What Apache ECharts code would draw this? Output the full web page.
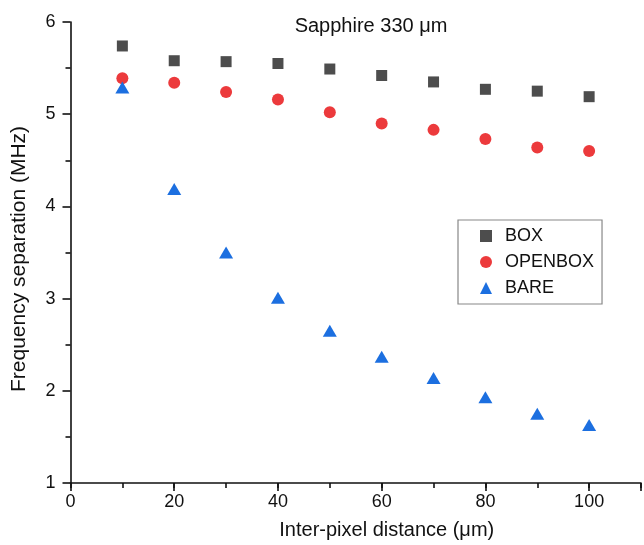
<!DOCTYPE html>
<html><head><meta charset="utf-8">
<script src="https://cdn.jsdelivr.net/npm/echarts@6/dist/echarts.min.js"></script>
<style>html,body{margin:0;padding:0;background:#fff}#c{width:644px;height:545px}</style>
</head><body><div id="c"></div>
<script>
const distances = [10, 20, 30, 40, 50, 60, 70, 80, 90, 100];
const boxValues = [5.74, 5.58, 5.57, 5.55, 5.49, 5.42, 5.35, 5.27, 5.25, 5.19];
const openboxValues = [5.39, 5.34, 5.24, 5.16, 5.02, 4.90, 4.83, 4.73, 4.64, 4.60];
const bareValues = [5.29, 4.19, 3.50, 3.01, 2.65, 2.37, 2.14, 1.93, 1.75, 1.63];
const seriesNames = ['BOX', 'OPENBOX', 'BARE'];

const font = 'Liberation Sans, Arial, sans-serif';
const pairs = v => distances.map((d, i) => [d, v[i]]);
const chart = echarts.init(document.getElementById('c'));
chart.setOption({
  animation: false,
  title: { text: 'Sapphire 330 μm', left: 366, top: 11, textAlign: 'center',
    textStyle: { fontFamily: font, fontSize: 20, fontWeight: 'normal', color: '#111' } },
  grid: { left: 70.5, right: -2, top: 22, bottom: 60 },
  legend: {
    orient: 'vertical', left: 458, top: 220,
    padding: [7, 8, 7, 22], itemGap: 8, itemWidth: 12, itemHeight: 12,
    borderColor: '#888', borderWidth: 1.2,
    textStyle: { fontFamily: font, fontSize: 18, color: '#111', padding: [0, 0, 0, 8] },
    data: seriesNames
  },
  xAxis: [{
    type: 'value', min: 0, max: 110, interval: 20,
    name: 'Inter-pixel distance (μm)', nameLocation: 'middle', nameGap: 37,
    nameTextStyle: { fontFamily: font, fontSize: 20, color: '#111', padding: [0, 0, 0, 62] },
    axisLine: { show: true, onZero: false, lineStyle: { color: '#111', width: 1.6 } },
    axisTick: { show: true, length: 8, lineStyle: { color: '#111', width: 1.6 } },
    axisLabel: { fontFamily: font, fontSize: 18, color: '#111', margin: 10,
      formatter: v => (v % 20 === 0 ? String(v) : '') },
    splitLine: { show: false }
  }, {
    type: 'value', min: 0, max: 110, interval: 10, position: 'bottom',
    axisLine: { show: false },
    axisTick: { show: true, length: 5, lineStyle: { color: '#111', width: 1.6 } },
    axisLabel: { show: false }, splitLine: { show: false }
  }],
  yAxis: {
    type: 'value', min: 1, max: 6, interval: 1,
    name: 'Frequency separation (MHz)', nameLocation: 'middle', nameGap: 41,
    nameTextStyle: { fontFamily: font, fontSize: 21, color: '#111', padding: [0, 13, 0, 0] },
    axisLine: { show: true, onZero: false, lineStyle: { color: '#111', width: 1.6 } },
    axisTick: { show: true, length: 8, lineStyle: { color: '#111', width: 1.6 } },
    minorTick: { show: true, splitNumber: 2, length: 5, lineStyle: { color: '#111', width: 1.6 } },
    axisLabel: { fontFamily: font, fontSize: 18, color: '#111', margin: 15 },
    splitLine: { show: false }
  },
  series: [
    { name: 'BOX', type: 'scatter', symbol: 'rect', symbolSize: 11,
      itemStyle: { color: '#4d4d4d', opacity: 1 }, data: pairs(boxValues) },
    { name: 'OPENBOX', type: 'scatter', symbol: 'circle', symbolSize: 12,
      itemStyle: { color: '#ec3a3c', opacity: 1 }, data: pairs(openboxValues) },
    { name: 'BARE', type: 'scatter', symbol: 'triangle', symbolSize: [14, 12],
      itemStyle: { color: '#1c6fe0', opacity: 1 }, data: pairs(bareValues) }
  ]
});
</script></body></html>
